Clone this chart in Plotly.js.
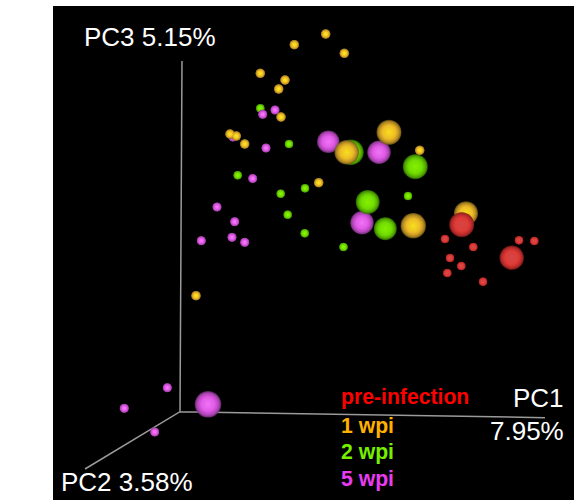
<!DOCTYPE html>
<html>
<head>
<meta charset="utf-8">
<script src="https://cdn.plot.ly/plotly-3.0.1.min.js"></script>
<style>html,body{margin:0;padding:0;background:#fff}#c{width:577px;height:502px}</style>
</head>
<body>
<div id="c"></div>
<script>
// Projected positions of the samples
const preSmallX = [445,473.3,450,461.3,447.3,483,519,534.3];
const preSmallY = [239,247,258,266,273,281.7,240.3,241];
const preBigX = [461.7,511.7];
const preBigY = [224.7,257.7];

const wpi1SmallX = [325.7,294.3,344.3,260.3,285,278.7,281,230,236.3,244.7,419.7,318.7,196];
const wpi1SmallY = [34,44.7,53.3,73.3,80,89,117,134,136,144,150.3,182.7,295.7];
const wpi1BigX = [389,346.7,413.3,466];
const wpi1BigY = [132.3,152.3,225.7,213.3];

const wpi2SmallX = [260.3,289,237.7,408,343.5,305,280.7,287.7,304.7];
const wpi2SmallY = [108.3,144,175.3,196,247,188.3,193.7,214.7,233.3];
const wpi2BigX = [351,415.3,367.7,385.3];
const wpi2BigY = [152.3,166.7,202,228.7];

const wpi5SmallX = [262.7,275,266,252.7,233,217,234.7,232,244.7,201.3,167.3,124.3,154.7];
const wpi5SmallY = [114.3,110,148,178.5,137,207,221.7,237.3,242.3,240.7,387.7,408.3,432];
const wpi5BigX = [328.3,379,362,208];
const wpi5BigY = [141.7,152.3,222.7,404.3];

const groupLabels = ['pre-infection','1 wpi','2 wpi','5 wpi'];
const axisLabels = ['PC3 5.15%','PC2 3.58%','PC1','7.95%'];
const panelLabel = 'B';

// Axis lines of the 3D frame, as projected
const axisX = [182,180,545,180,85];
const axisY = [61,411.7,417.7,411.7,469];

const legendColors = ['#ff0000','#ffb000','#77ee00','#e93cf0'];
const legendY = [397,426,452,479];

function parts(hex){const n=parseInt(hex.slice(1),16);return [n>>16,(n>>8)&255,n&255];}
function mix(a,b,t){
  const p=parts(a),q=parts(b);
  return 'rgb('+p.map((v,i)=>Math.round(v+(q[i]-v)*t)).join(',')+')';
}
function scale(size,k){return Array.isArray(size)?size.map(s=>s*k):size*k;}
// one sphere = nested discs darkening to the rim, plus a soft highlight
function balls(name,x,y,size,c){
  const base={type:'scatter',mode:'markers',name,x,y,hoverinfo:'skip'};
  const out=[];
  const steps=[[1,0],[0.97,0.2],[0.93,0.38],[0.88,0.54],[0.82,0.68],[0.75,0.8],[0.67,0.9],[0.58,1]];
  steps.forEach(([k,t])=>out.push(Object.assign({},base,
    {marker:{size:scale(size,k),color:mix(c.rim,c.body,t),line:{width:0}}})));
  const p=parts(c.hi);
  out.push(Object.assign({},base,{marker:{size:scale(size,0.62),
    color:'rgba('+p.join(',')+',0)',line:{width:0},gradient:{type:'radial',color:c.hi}}}));
  return out;
}
const O={rim:'#6e5418',body:'#f0ba2a',hi:'#fff018'};
const G={rim:'#2e6a00',body:'#74e000',hi:'#8cf800'};
const M={rim:'#6e2e74',body:'#e258e8',hi:'#fa80ff'};
const R={rim:'#7a1818',body:'#e63c38',hi:'#cc4c4c'};

const traces=[
  {type:'scatter',mode:'lines',x:axisX,y:axisY,hoverinfo:'skip',line:{color:'#9a9a9a',width:1.5}},
  ...balls('2 wpi',wpi2SmallX,wpi2SmallY,8.5,G),
  ...balls('5 wpi',wpi5SmallX,wpi5SmallY,9,M),
  ...balls('5 wpi',wpi5BigX,wpi5BigY,[22.5,23.5,23.5,26.5],M),
  ...balls('2 wpi',wpi2BigX,wpi2BigY,[25.5,25,24,23],G),
  ...balls('1 wpi',wpi1SmallX,wpi1SmallY,9.5,O),
  ...balls('1 wpi',wpi1BigX,wpi1BigY,[25,24.5,25.5,24],O),
  ...balls('pre-infection',preSmallX,preSmallY,8.5,R),
  ...balls('pre-infection',preBigX,preBigY,[25,24.5],R)
];

function txt(text,x,y,xanchor,size,color,bold){
  return {text,x,y,xref:'x',yref:'y',xanchor,yanchor:'middle',showarrow:false,borderpad:0,
    font:{family:'Liberation Sans, Arial, sans-serif',size,color,weight:bold?700:400}};
}
const annotations=[
  txt(axisLabels[0],82.5,37,'left',26,'#ffffff'),
  txt(axisLabels[1],60,482,'left',26,'#ffffff'),
  txt(axisLabels[2],565,398,'right',26,'#ffffff'),
  txt(axisLabels[3],565,431,'right',26,'#ffffff'),
  txt(panelLabel,11,17,'left',24,'#000000',true)
];
groupLabels.forEach((g,i)=>annotations.push(txt(g,339.5,legendY[i],'left',21.2,legendColors[i],true)));
annotations[4].xref='paper'; annotations[4].yref='paper';
annotations[4].x=11/577; annotations[4].y=1-17/502;

const layout={
  width:577,height:502,showlegend:false,
  paper_bgcolor:'#ffffff',plot_bgcolor:'#000000',
  margin:{l:53,r:3,t:6,b:2},
  xaxis:{range:[53,574],visible:false,fixedrange:true},
  yaxis:{range:[500,6],visible:false,fixedrange:true},
  annotations
};
Plotly.newPlot('c',traces,layout,{displayModeBar:false,staticPlot:true});
</script>
</body>
</html>
